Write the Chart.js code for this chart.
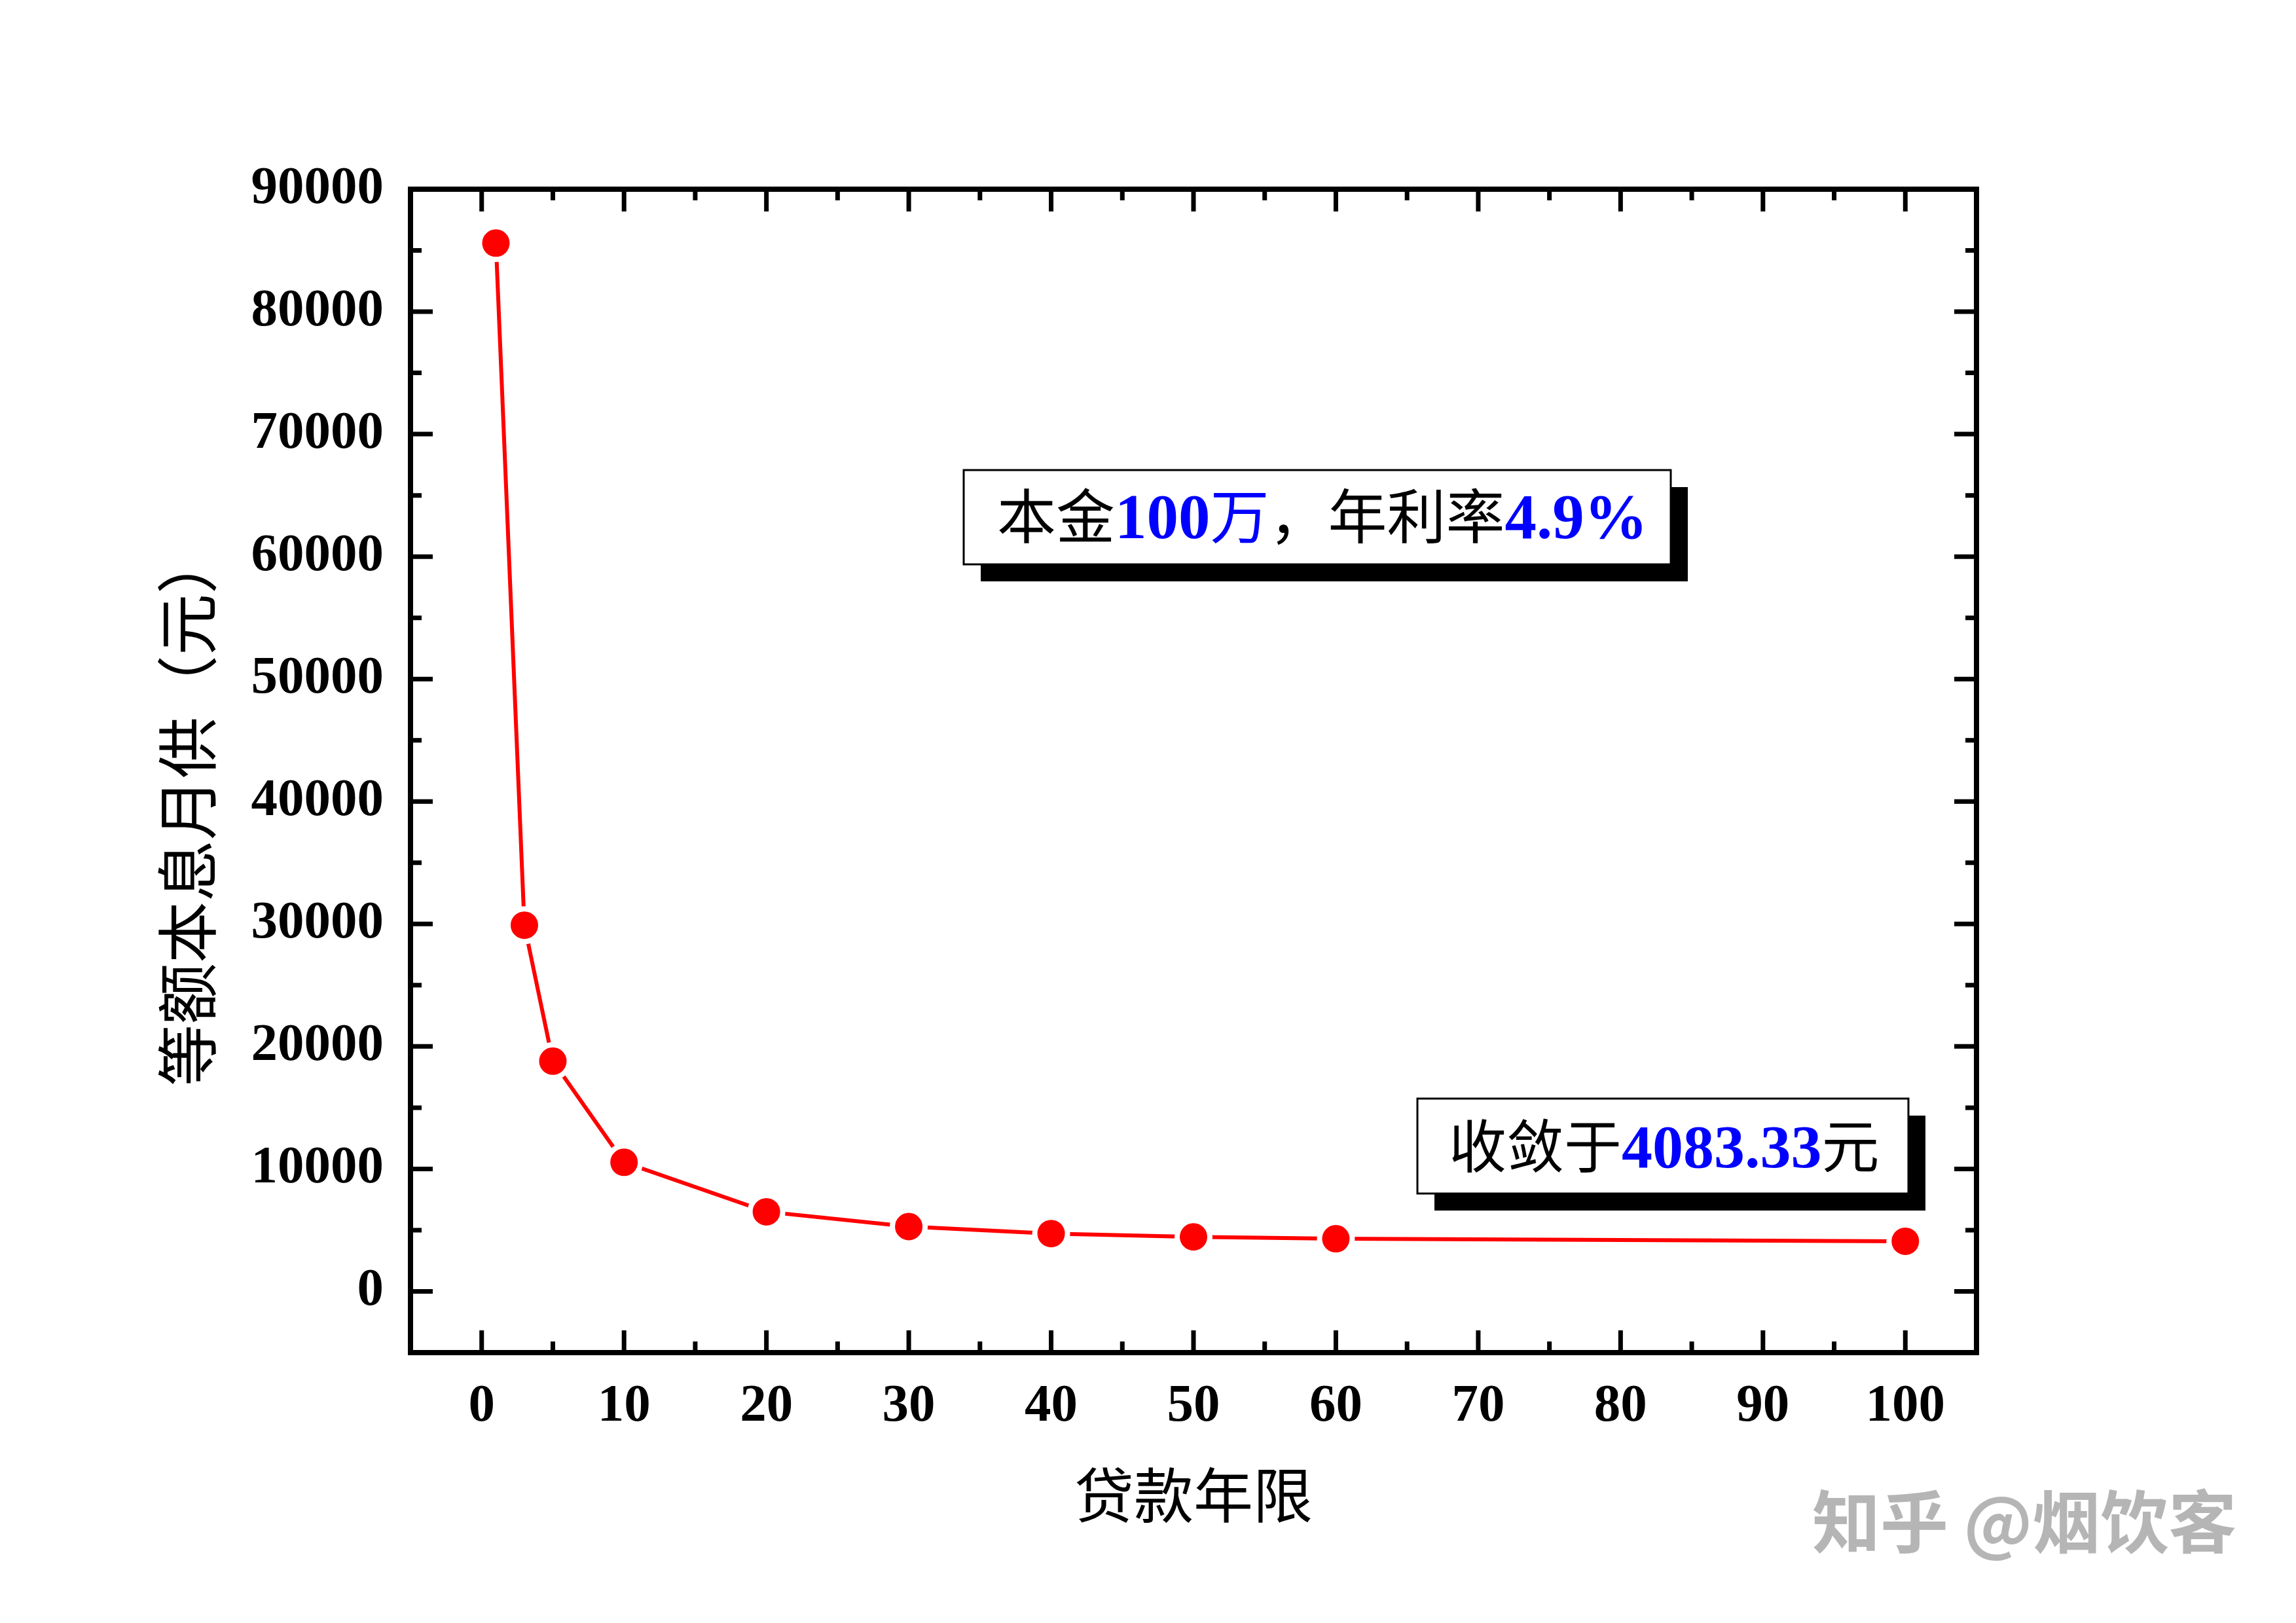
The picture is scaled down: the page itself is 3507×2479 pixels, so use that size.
<!DOCTYPE html>
<html>
<head>
<meta charset="utf-8">
<script src="https://cdn.jsdelivr.net/npm/chart.js@4"></script>
<style>
  html, body { margin: 0; padding: 0; background: #fff; }
  canvas { display: block; }
</style>
</head>
<body>
<canvas id="loanChart" width="3507" height="2479"></canvas>
<script>
// 等额本息月供 vs 贷款年限
const years = [1, 3, 5, 10, 20, 30, 40, 50, 60, 100];
const payments = [85600, 29900, 18800, 10540, 6500, 5290, 4720, 4450, 4300, 4090];

const xTicks = [0, 10, 20, 30, 40, 50, 60, 70, 80, 90, 100];
const xMinorTicks = [5, 15, 25, 35, 45, 55, 65, 75, 85, 95];
const yTicks = [0, 10000, 20000, 30000, 40000, 50000, 60000, 70000, 80000, 90000];
const yMinorTicks = [5000, 15000, 25000, 35000, 45000, 55000, 65000, 75000, 85000];

const xTitle = '贷款年限';
const yTitle = '等额本息月供（元）';
const note1 = [['本金', '#000', false], ['100', '#0000ff', true], ['万', '#0000ff', false], ['，年利率', '#000', false], ['4.9%', '#0000ff', true]];
const note2 = [['收敛于', '#000', false], ['4083.33', '#0000ff', true], ['元', '#000', false]];
const watermark = '知乎 @烟饮客';

const SERIF = '"Liberation Serif", "Times New Roman", serif';
const CJK = '"Noto Sans CJK SC", sans-serif';

function drawNote(ctx, runs, box, baseline, startX, cjkSize, numSize) {
  ctx.save();
  ctx.fillStyle = '#000';
  ctx.fillRect(box.x + 26, box.y + 26, box.w, box.h);
  ctx.fillStyle = '#fff';
  ctx.fillRect(box.x, box.y, box.w, box.h);
  ctx.strokeStyle = '#000';
  ctx.lineWidth = 3;
  ctx.strokeRect(box.x, box.y, box.w, box.h);
  let x = startX;
  ctx.textBaseline = 'alphabetic';
  ctx.textAlign = 'left';
  runs.forEach(([text, color, num]) => {
    ctx.font = num ? `bold ${numSize}px ${SERIF}` : `400 ${cjkSize}px ${CJK}`;
    ctx.fillStyle = color;
    ctx.fillText(text, x, baseline);
    x += ctx.measureText(text).width;
  });
  ctx.restore();
}

const framePlugin = {
  id: 'frame',
  afterDraw(chart) {
    const ctx = chart.ctx;
    const { left, right, top, bottom } = chart.chartArea;
    const xs = chart.scales.x, ys = chart.scales.y;
    ctx.save();
    ctx.strokeStyle = '#000';
    ctx.lineCap = 'butt';
    ctx.lineWidth = 7;
    const major = 34, minor = 17;
    ctx.beginPath();
    xTicks.forEach(v => {
      const px = xs.getPixelForValue(v);
      ctx.moveTo(px, bottom); ctx.lineTo(px, bottom - major);
      ctx.moveTo(px, top); ctx.lineTo(px, top + major);
    });
    xMinorTicks.forEach(v => {
      const px = xs.getPixelForValue(v);
      ctx.moveTo(px, bottom); ctx.lineTo(px, bottom - minor);
      ctx.moveTo(px, top); ctx.lineTo(px, top + minor);
    });
    yTicks.forEach(v => {
      const py = ys.getPixelForValue(v);
      ctx.moveTo(left, py); ctx.lineTo(left + major, py);
      ctx.moveTo(right, py); ctx.lineTo(right - major, py);
    });
    yMinorTicks.forEach(v => {
      const py = ys.getPixelForValue(v);
      ctx.moveTo(left, py); ctx.lineTo(left + minor, py);
      ctx.moveTo(right, py); ctx.lineTo(right - minor, py);
    });
    ctx.stroke();
    ctx.lineWidth = 8;
    ctx.lineJoin = 'miter';
    ctx.strokeRect(left, top, right - left, bottom - top);

    // y axis title, rotated
    ctx.save();
    ctx.translate(286, 1236);
    ctx.rotate(-Math.PI / 2);
    ctx.font = `400 94px ${CJK}`;
    ctx.fillStyle = '#000';
    ctx.textAlign = 'center';
    ctx.textBaseline = 'middle';
    ctx.fillText(yTitle, 0, 0);
    ctx.restore();

    drawNote(ctx, note1, { x: 1472, y: 718, w: 1080, h: 144 }, 822, 1523, 90, 97);
    drawNote(ctx, note2, { x: 2165, y: 1678, w: 750, h: 145 }, 1783, 2213, 88, 94);

    ctx.font = `bold 104px ${CJK}`;
    ctx.fillStyle = '#b5b5b5';
    ctx.textAlign = 'left';
    ctx.textBaseline = 'alphabetic';
    ctx.fillText(watermark, 2768, 2364);
    ctx.restore();
  }
};

new Chart(document.getElementById('loanChart'), {
  type: 'line',
  data: {
    datasets: [{
      data: years.map((x, i) => ({ x: x, y: payments[i] })),
      borderColor: '#ff0000',
      borderWidth: 6,
      tension: 0,
      pointRadius: 25,
      pointBorderWidth: 8,
      pointBorderColor: '#ffffff',
      pointBackgroundColor: '#ff0000'
    }]
  },
  options: {
    responsive: false,
    devicePixelRatio: 1,
    animation: false,
    layout: { padding: { left: 0, top: 289, right: 488, bottom: 0 } },
    plugins: { legend: { display: false }, tooltip: { enabled: false } },
    scales: {
      x: {
        type: 'linear',
        min: -5,
        max: 105,
        afterFit: s => { s.height = 413; },
        afterBuildTicks: s => { s.ticks = xTicks.map(v => ({ value: v })); },
        grid: { display: false, drawTicks: false },
        border: { display: false },
        ticks: {
          padding: 43,
          maxRotation: 0,
          autoSkip: false,
          color: '#000',
          font: { family: SERIF, size: 81, weight: 'bold', lineHeight: 1 },
          callback: v => String(v)
        },
        title: {
          display: true,
          text: xTitle,
          color: '#000',
          font: { family: CJK, size: 91, weight: '400', lineHeight: 1 },
          padding: { top: 0, bottom: 150 }
        }
      },
      y: {
        min: -5000,
        max: 90000,
        afterFit: s => { s.width = 627; },
        afterBuildTicks: s => { s.ticks = yTicks.map(v => ({ value: v })); },
        grid: { display: false, drawTicks: false },
        border: { display: false },
        ticks: {
          padding: 41,
          autoSkip: false,
          color: '#000',
          font: { family: SERIF, size: 81, weight: 'bold', lineHeight: 1 },
          callback: v => String(v)
        }
      }
    }
  },
  plugins: [framePlugin]
});
</script>
</body>
</html>
